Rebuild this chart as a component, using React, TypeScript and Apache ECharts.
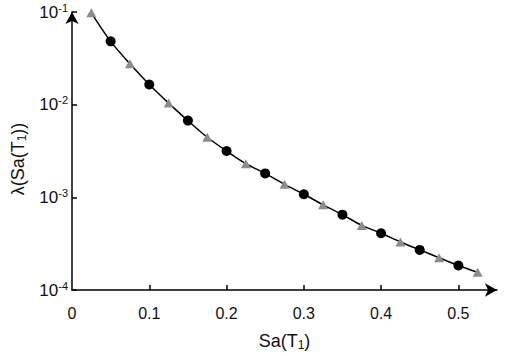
import React, { useEffect, useRef } from 'react';
import * as echarts from 'echarts';

const circleX = [0.05, 0.1, 0.15, 0.2, 0.25, 0.3, 0.35, 0.4, 0.45, 0.5];
const circleY = [0.0482, 0.0165, 0.00673, 0.00316, 0.00181, 0.00108, 0.00065, 0.00041, 0.000271, 0.000184];
const triangleX = [0.025, 0.075, 0.125, 0.175, 0.225, 0.275, 0.325, 0.375, 0.425, 0.475, 0.525];
const triangleY = [0.098, 0.0276, 0.0104, 0.00445, 0.00231, 0.00138, 0.00083, 0.000498, 0.00033, 0.000223, 0.000155];
const xTickValues = [0, 0.1, 0.2, 0.3, 0.4, 0.5];
const yTickValues = [0.0001, 0.001, 0.01, 0.1];

const FONT = 'Liberation Sans, Arial, sans-serif';

export default function App() {
  const ref = useRef<HTMLDivElement>(null);
  useEffect(() => {
    document.body.style.margin = '0';
    const chart = echarts.init(ref.current!, null, { renderer: 'svg' });
    const curve = circleX
      .map((x, i) => [x, circleY[i]])
      .concat(triangleX.map((x, i) => [x, triangleY[i]]))
      .sort((a, b) => a[0] - b[0]);
    chart.setOption({
      animation: false,
      grid: { left: 72, right: 8, top: 12, bottom: 60 },
      xAxis: {
        type: 'value',
        min: 0,
        max: 0.55,
        interval: 0.1,
        name: 'Sa(T{sub|1})',
        nameLocation: 'middle',
        nameGap: 40,
        nameTextStyle: {
          fontFamily: FONT,
          fontSize: 18,
          color: '#111',
          rich: { sub: { fontSize: 12, fontFamily: FONT, color: '#111', padding: [9, 0, 0, 0] } },
        },
        splitLine: { show: false },
        axisLine: { lineStyle: { color: '#000', width: 1.5 }, symbol: ['none', 'arrow'], symbolSize: [10, 12] },
        axisTick: { inside: true, length: 5, customValues: xTickValues.slice(1), lineStyle: { color: '#000', width: 1.5 } },
        axisLabel: {
          customValues: xTickValues,
          margin: 15,
          fontFamily: FONT,
          fontSize: 16,
          color: '#111',
          formatter: (v: number) => String(Math.round(v * 10) / 10),
        },
      },
      yAxis: {
        type: 'log',
        logBase: 10,
        min: 0.0001,
        max: 0.1,
        name: 'λ(Sa(T{sub|1}))',
        nameLocation: 'middle',
        nameGap: 44,
        nameRotate: 90,
        nameTextStyle: {
          fontFamily: FONT,
          fontSize: 18,
          color: '#111',
          padding: [0, 16, 0, 0],
          rich: { sub: { fontSize: 12, fontFamily: FONT, color: '#111', padding: [9, 0, 0, 0] } },
        },
        splitLine: { show: false },
        axisLine: { lineStyle: { color: '#000', width: 1.5 }, symbol: ['none', 'arrow'], symbolSize: [10, 12] },
        axisTick: { inside: true, length: 5, customValues: yTickValues, lineStyle: { color: '#000', width: 1.5 } },
        axisLabel: {
          customValues: yTickValues,
          margin: 4,
          fontFamily: FONT,
          fontSize: 17,
          color: '#111',
          formatter: (v: number) => '{base|10}{sup|' + Math.round(Math.log10(v)) + '}',
          rich: {
            base: { fontSize: 17, fontFamily: FONT, color: '#111', lineHeight: 20 },
            sup: { fontSize: 11, fontFamily: FONT, color: '#111', verticalAlign: 'top', lineHeight: 20 },
          },
        },
      },
      series: [
        {
          type: 'line',
          data: curve,
          smooth: 0.3,
          showSymbol: false,
          symbol: 'none',
          lineStyle: { color: '#000', width: 1.5 },
          z: 1,
        },
        {
          type: 'scatter',
          data: circleX.map((x, i) => [x, circleY[i]]),
          symbol: 'circle',
          symbolSize: 10,
          itemStyle: { color: '#000', opacity: 1 },
          z: 3,
        },
        {
          type: 'scatter',
          data: triangleX.map((x, i) => [x, triangleY[i]]),
          symbol: 'triangle',
          symbolSize: [10, 9],
          itemStyle: { color: '#8c8c8c', opacity: 1 },
          z: 3,
        },
      ],
    });
    return () => chart.dispose();
  }, []);
  return <div ref={ref} style={{ width: 505, height: 356 }} />;
}
